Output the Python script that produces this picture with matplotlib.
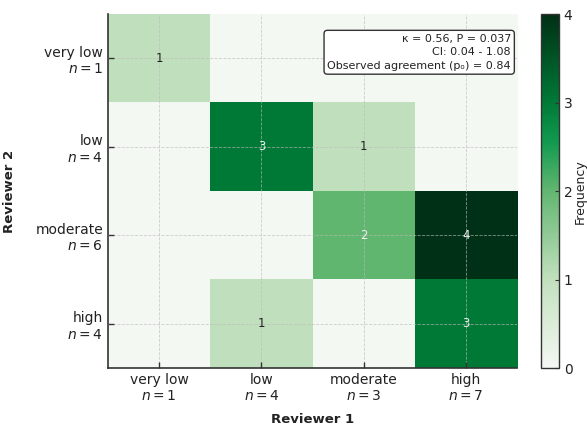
import numpy as np
import matplotlib
matplotlib.use("Agg")
import matplotlib.pyplot as plt
from matplotlib.colors import LinearSegmentedColormap

categories = ["very low", "low", "moderate", "high"]
n_reviewer1 = [1, 4, 3, 7]
n_reviewer2 = [1, 4, 6, 4]
# rows: Reviewer 2, cols: Reviewer 1
counts = np.array([
    [1, 0, 0, 0],
    [0, 3, 1, 0],
    [0, 0, 2, 4],
    [0, 1, 0, 3],
])
stats_text = "κ = 0.56, P = 0.037\nCI: 0.04 - 1.08\nObserved agreement (pₒ) = 0.84"

cmap = LinearSegmentedColormap.from_list(
    "greens_ref",
    [(0.0, "#f4f8f3"), (0.25, "#c1e0bd"), (0.5, "#62b670"),
     (0.64, "#119a4f"), (0.75, "#007a37"), (1.0, "#003015")])

fig = plt.figure(figsize=(5.87, 4.30), dpi=100)
ax = fig.add_axes([0.184, 0.144, 0.697, 0.823])
cax = fig.add_axes([0.922, 0.144, 0.030, 0.823])

im = ax.imshow(counts, cmap=cmap, vmin=0, vmax=4, aspect="auto")
for i in range(counts.shape[0]):
    for j in range(counts.shape[1]):
        v = counts[i, j]
        if v > 0:
            ax.text(j, i, str(v), ha="center", va="center", fontsize=8.5,
                    color="#eeeeee" if v >= 2 else "#222222")

ax.set_xticks(range(len(categories)))
ax.set_xticklabels([f"{c}\n$n = {n}$" for c, n in zip(categories, n_reviewer1)], fontsize=10)
ax.set_yticks(range(len(categories)))
ax.set_yticklabels([f"{c}\n$n = {n}$" for c, n in zip(categories, n_reviewer2)], fontsize=10, ha="right")
ax.tick_params(direction="in", length=4, width=1, colors="#333333", labelcolor="#222222")
ax.grid(True, linestyle="--", color="#bbbbbb", linewidth=0.6, alpha=0.7)
ax.set_axisbelow(False)
for s in ["top", "right"]:
    ax.spines[s].set_visible(False)
for s in ["left", "bottom"]:
    ax.spines[s].set_linewidth(1.2)
    ax.spines[s].set_color("#333333")

ax.set_xlabel("Reviewer 1", fontsize=9.5, fontweight="bold", labelpad=7, color="#222222")
ax.set_ylabel("Reviewer 2", fontsize=9.5, fontweight="bold", labelpad=14, color="#222222")

ax.text(0.985, 0.945, stats_text, transform=ax.transAxes, ha="right", va="top",
        fontsize=8, linespacing=1.45, color="#222222",
        bbox=dict(boxstyle="round,pad=0.3", facecolor="white", edgecolor="#333333", linewidth=1))

cb = fig.colorbar(im, cax=cax, ticks=[0, 1, 2, 3, 4])
cb.set_label("Frequency", fontsize=9, color="#222222", labelpad=1)
cb.ax.tick_params(labelsize=10, direction="in", length=3, colors="#333333", labelcolor="#222222")
cb.outline.set_linewidth(1)
cb.outline.set_edgecolor("#333333")

fig.savefig("out.png", dpi=100)
